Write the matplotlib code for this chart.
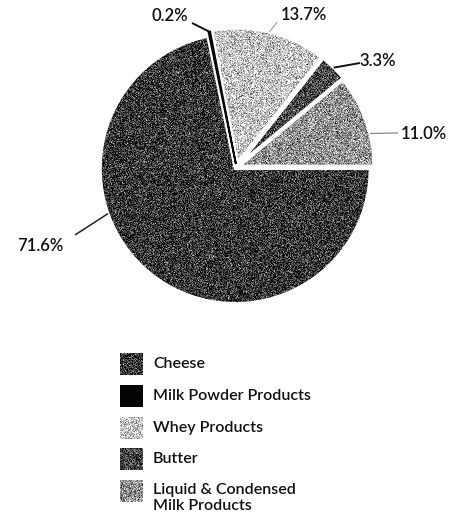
import matplotlib
matplotlib.use("Agg")
import matplotlib.pyplot as plt
from matplotlib.patches import Rectangle, Wedge
import numpy as np

# Share of dairy output by product group (percent)
categories = ["Liquid & Condensed\nMilk Products", "Butter", "Whey Products",
              "Milk Powder Products", "Cheese"]
values = [11.0, 3.3, 13.7, 0.2, 71.6]
colors = ["#939393", "#474747", "#c6c6c6", "#050505", "#363636"]

# legend order as printed under the pie
legend_order = [4, 3, 2, 1, 0]

W, H = 463, 527
FONT = "Lato"
WEIGHT = "semibold"

fig = plt.figure(figsize=(W / 100, H / 100), dpi=100)
ax = fig.add_axes([0, 0, 1, 1])


def Y(py):
    return H - py


radius = 135
center = (236.5, Y(167))
explode = [2.5, 4, 4, 3, 2]

wedges, _ = ax.pie(values, colors=colors, startangle=0, counterclock=True,
                   explode=explode, radius=radius, center=center,
                   wedgeprops=dict(edgecolor="white", linewidth=2.2))

ax.set_xlim(0, W)
ax.set_ylim(0, H)
ax.set_aspect("equal")
ax.axis("off")

# printed screen texture on the grey fills
rng = np.random.default_rng(7)


def screen(gray, shape=(H, W)):
    tex = gray + rng.normal(0, 0.19, shape)
    return np.clip(tex, 0, 1)


for i, w in enumerate(wedges):
    if i == 3:
        continue
    g = matplotlib.colors.to_rgb(colors[i])[0]
    im = ax.imshow(screen(g), cmap="gray", vmin=0, vmax=1, extent=(0, W, 0, H),
                   interpolation="nearest", zorder=2, origin="upper")
    im.set_clip_path(w)
    # white separating outline redrawn above the texture
    ax.add_patch(Wedge(w.center, w.r, w.theta1, w.theta2, facecolor="none",
                       edgecolor="white", linewidth=2.2, zorder=3))

# the tiny milk powder slice gets a dark outline so it stays visible
wedges[3].set_edgecolor("#050505")
wedges[3].set_linewidth(1.3)
wedges[3].set_zorder(5)

ax.set_xlim(0, W)
ax.set_ylim(0, H)


def edge_point(w, ang, r=None):
    r = w.r if r is None else r
    cx, cy = w.center
    a = np.deg2rad(ang)
    return cx + r * np.cos(a), cy + r * np.sin(a)


def mid(w):
    return 0.5 * (w.theta1 + w.theta2)


# value labels: (wedge index, anchor angle, line end, text centre, line colour, width)
labels = [
    (3, None, (192, 23), (169.5, 16), "#111111", 1.4),
    (2, None, (277, 22), (304, 15), "#9a9a9a", 0.8),
    (1, None, (360, 63), (378, 61), "#111111", 1.4),
    (0, 14, (398, 133), (424, 134), "#8a8a8a", 0.9),
    (4, 199.5, (75, 235), (40, 246), "#222222", 1.1),
]
for idx, ang, end, tc, lc, lw in labels:
    w = wedges[idx]
    a = mid(w) if ang is None else ang
    x0, y0 = edge_point(w, a)
    ax.plot([x0, end[0]], [y0, Y(end[1])], color=lc, lw=lw, zorder=6,
            solid_capstyle="butt")
    ax.text(tc[0], Y(tc[1]), f"{values[idx]:.1f}%", ha="center", va="center",
            fontsize=12, family=FONT, weight=WEIGHT, color="#111111")

# legend: swatches with names
sw_x, sw_w, sw_h = 120, 23, 22
row0, step = 353, 31.8
for k, idx in enumerate(legend_order):
    top = row0 + k * step
    ax.add_patch(Rectangle((sw_x, Y(top + sw_h)), sw_w, sw_h,
                           facecolor=colors[idx], edgecolor="none", zorder=3))
    if idx != 3:
        g = matplotlib.colors.to_rgb(colors[idx])[0]
        ax.imshow(screen(g, (22, 23)), cmap="gray", vmin=0, vmax=1,
                  extent=(sw_x, sw_x + sw_w, Y(top + sw_h), Y(top)),
                  interpolation="nearest", zorder=4)
    two = "\n" in categories[idx]
    ax.text(153, Y(top + 3) if two else Y(top + 11), categories[idx], ha="left",
            va="top" if two else "center", fontsize=11.5, family=FONT,
            weight=WEIGHT, color="#111111", linespacing=1.15)

ax.set_xlim(0, W)
ax.set_ylim(0, H)
fig.savefig("out.png", dpi=100)
